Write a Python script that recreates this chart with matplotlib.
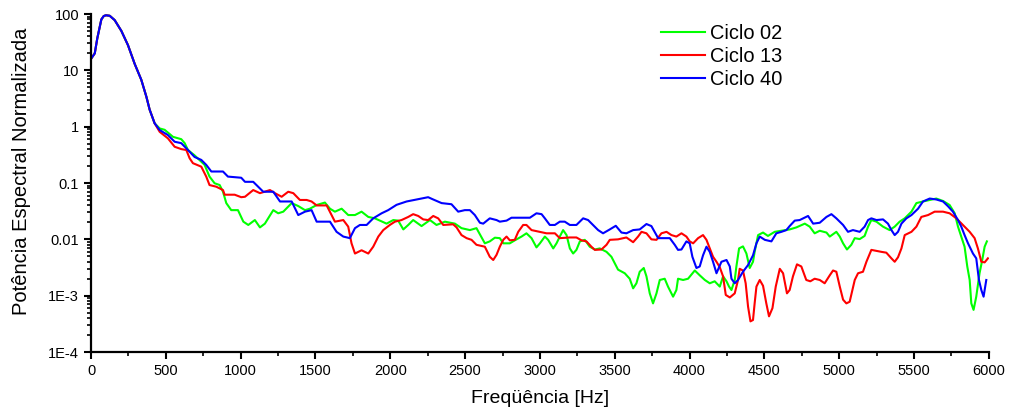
import matplotlib
matplotlib.use('Agg')

import matplotlib.pyplot as plt
from matplotlib.ticker import FixedLocator, FixedFormatter, LogLocator, NullFormatter, MultipleLocator

plt.rcParams['font.family'] = ['Liberation Sans', 'DejaVu Sans']

# === dados ===
# trecho inicial comum às três curvas
head_f = [0, 25, 42, 58, 69, 85, 100, 125, 158, 203, 247, 292, 336, 370, 392, 425]
head_p = [16, 20, 37, 59, 80, 92, 95, 93, 78, 50, 28, 13, 6.8, 3.4, 2.0, 1.15]

c02_f = [459, 492, 548, 603, 626, 648, 692, 759, 792, 826, 860, 882, 904, 937, 982,
         1018, 1051, 1095, 1129, 1162, 1218, 1251, 1285, 1341, 1385, 1430, 1463, 1508,
         1563, 1597, 1630, 1675, 1719, 1764, 1808, 1853, 1897, 1975, 2020, 2053, 2087,
         2120, 2153, 2187, 2209, 2265, 2309, 2365, 2432, 2476, 2532, 2576, 2632, 2665,
         2699, 2732, 2755, 2799, 2832, 2877, 2910, 2944, 2977, 3000, 3033, 3055, 3089,
         3111, 3133, 3155, 3178, 3200, 3222, 3244, 3267, 3300, 3333, 3367, 3400, 3445,
         3478, 3522, 3567, 3600, 3623, 3645, 3667, 3694, 3712, 3734, 3756, 3779, 3801,
         3834, 3856, 3890, 3912, 3923, 3957, 3990, 4035, 4068, 4102, 4135, 4168, 4202,
         4224, 4247, 4264, 4280, 4302, 4313, 4331, 4357, 4380, 4402, 4424, 4435, 4458,
         4491, 4524, 4569, 4614, 4669, 4714, 4770, 4803, 4836, 4870, 4915, 4937, 4981,
         5004, 5026, 5052, 5081, 5104, 5137, 5170, 5193, 5215, 5249, 5293, 5337, 5371,
         5404, 5438, 5483, 5516, 5560, 5605, 5649, 5694, 5738, 5772, 5794, 5816, 5838,
         5856, 5872, 5883, 5898, 5916, 5938, 5956, 5972, 5987]
c02_p = [0.93, 0.88, 0.66, 0.60, 0.51, 0.385, 0.31, 0.21, 0.13, 0.099, 0.092, 0.07, 0.044,
         0.033, 0.033, 0.0206, 0.018, 0.022, 0.0163, 0.019, 0.033, 0.029, 0.031, 0.044,
         0.039, 0.033, 0.035, 0.0407, 0.045, 0.035, 0.031, 0.035, 0.027, 0.027, 0.031,
         0.025, 0.0236, 0.019, 0.022, 0.0215, 0.015, 0.018, 0.022, 0.019, 0.0172, 0.022,
         0.018, 0.0206, 0.019, 0.0158, 0.0146, 0.0158, 0.0085, 0.0092, 0.0107, 0.0105,
         0.0085, 0.0085, 0.0096, 0.0112, 0.0128, 0.0105, 0.0072, 0.0085, 0.0112, 0.0098,
         0.0069, 0.0085, 0.0112, 0.0146, 0.0119, 0.0069, 0.0056, 0.0065, 0.0092, 0.0098,
         0.0074, 0.0066, 0.0069, 0.006, 0.0049, 0.0029, 0.0025, 0.002, 0.00135, 0.00166,
         0.00266, 0.0031, 0.0022, 0.0011, 0.00073, 0.0011, 0.0019, 0.002, 0.00145,
         0.00096, 0.00126, 0.002, 0.0019, 0.002, 0.0028, 0.0023, 0.0019, 0.00166, 0.0018,
         0.00145, 0.0022, 0.0018, 0.00145, 0.00126, 0.0019, 0.0033, 0.0069, 0.0075,
         0.0056, 0.0031, 0.004, 0.006, 0.0119, 0.0132, 0.0115, 0.0136, 0.0142, 0.015,
         0.0163, 0.019, 0.0168, 0.0128, 0.0142, 0.0132, 0.0112, 0.0136, 0.0112, 0.0085,
         0.0066, 0.008, 0.0105, 0.0101, 0.0115, 0.0168, 0.022, 0.0206, 0.0168, 0.0146,
         0.0168, 0.0206, 0.0236, 0.031, 0.044, 0.047, 0.050, 0.053, 0.048, 0.0407, 0.029,
         0.0168, 0.0112, 0.0074, 0.0033, 0.0019, 0.00073, 0.00056, 0.00096, 0.0025,
         0.0043, 0.0074, 0.0092]

c13_f = [459, 514, 559, 603, 637, 659, 681, 737, 770, 792, 837, 882, 893, 960, 1004,
         1029, 1084, 1129, 1196, 1229, 1274, 1318, 1352, 1396, 1441, 1474, 1508, 1575,
         1630, 1686, 1719, 1741, 1764, 1808, 1853, 1886, 1920, 1953, 1997, 2031, 2075,
         2120, 2153, 2187, 2220, 2253, 2287, 2320, 2354, 2420, 2443, 2476, 2510, 2543,
         2576, 2632, 2665, 2688, 2710, 2732, 2755, 2777, 2799, 2832, 2855, 2888, 2910,
         2944, 2999, 3044, 3100, 3133, 3200, 3244, 3278, 3311, 3344, 3367, 3411, 3445,
         3467, 3522, 3578, 3623, 3656, 3679, 3712, 3745, 3779, 3812, 3846, 3879, 3912,
         3946, 3979, 4001, 4024, 4057, 4090, 4113, 4135, 4157, 4180, 4202, 4224, 4242,
         4269, 4302, 4324, 4335, 4357, 4375, 4391, 4407, 4424, 4435, 4447, 4469, 4491,
         4513, 4531, 4554, 4576, 4603, 4625, 4651, 4669, 4691, 4718, 4747, 4780, 4807,
         4836, 4870, 4903, 4937, 4959, 4981, 5004, 5026, 5048, 5070, 5104, 5126, 5159,
         5182, 5215, 5282, 5315, 5349, 5371, 5393, 5416, 5438, 5483, 5516, 5549, 5594,
         5638, 5694, 5738, 5783, 5827, 5872, 5905, 5927, 5950, 5972, 5994]
c13_p = [0.81, 0.62, 0.44, 0.40, 0.385, 0.275, 0.225, 0.195, 0.13, 0.092, 0.086, 0.075,
         0.062, 0.062, 0.056, 0.057, 0.075, 0.066, 0.075, 0.066, 0.057, 0.070, 0.066,
         0.050, 0.050, 0.047, 0.040, 0.040, 0.0206, 0.022, 0.0168, 0.0085, 0.0056,
         0.0064, 0.0056, 0.0074, 0.0112, 0.0146, 0.018, 0.0206, 0.022, 0.025, 0.028,
         0.026, 0.0226, 0.022, 0.026, 0.0236, 0.018, 0.0185, 0.0163, 0.0119, 0.0105,
         0.0098, 0.0080, 0.0074, 0.0049, 0.0043, 0.0053, 0.0074, 0.0098, 0.0112, 0.0096,
         0.0098, 0.0136, 0.018, 0.018, 0.0146, 0.0136, 0.0128, 0.0128, 0.0105, 0.0108,
         0.0108, 0.0096, 0.0092, 0.0074, 0.0065, 0.0066, 0.008, 0.0098, 0.010, 0.0108,
         0.0089, 0.0112, 0.0136, 0.0128, 0.010, 0.0098, 0.0128, 0.0136, 0.0119, 0.0112,
         0.0128, 0.0112, 0.0092, 0.0085, 0.0105, 0.0119, 0.0098, 0.0069, 0.0049, 0.004,
         0.0032, 0.0022, 0.00103, 0.00093, 0.0011, 0.0019, 0.003, 0.0028, 0.00166,
         0.00064, 0.00035, 0.00037, 0.00073, 0.00145, 0.0019, 0.0015, 0.00073, 0.00043,
         0.0006, 0.00145, 0.003, 0.0025, 0.0011, 0.00126, 0.0022, 0.0036, 0.0033, 0.0019,
         0.0018, 0.002, 0.0019, 0.00166, 0.0023, 0.0028, 0.00266, 0.00145, 0.00085,
         0.00073, 0.00078, 0.0019, 0.0025, 0.00266, 0.004, 0.0065, 0.006, 0.0058, 0.0046,
         0.004, 0.0048, 0.0069, 0.0119, 0.0136, 0.0168, 0.025, 0.027, 0.031, 0.031, 0.029,
         0.0236, 0.018, 0.0136, 0.0105, 0.0069, 0.004, 0.0039, 0.0046]

c40_f = [459, 514, 559, 603, 648, 692, 737, 770, 804, 882, 915, 1004, 1029, 1084, 1129,
         1151, 1218, 1263, 1341, 1385, 1430, 1474, 1508, 1597, 1641, 1686, 1730, 1764,
         1797, 1842, 1886, 1942, 1986, 2042, 2109, 2176, 2253, 2287, 2343, 2409, 2454,
         2498, 2532, 2565, 2599, 2621, 2665, 2710, 2732, 2777, 2810, 2933, 2977, 3011,
         3033, 3066, 3100, 3133, 3166, 3200, 3244, 3289, 3322, 3355, 3389, 3422, 3467,
         3507, 3545, 3578, 3623, 3667, 3712, 3745, 3779, 3790, 3868, 3901, 3923, 3946,
         3979, 4001, 4019, 4046, 4068, 4090, 4113, 4135, 4157, 4180, 4213, 4247, 4269,
         4280, 4302, 4324, 4357, 4391, 4424, 4447, 4469, 4503, 4547, 4580, 4614, 4647,
         4669, 4703, 4736, 4792, 4826, 4870, 4915, 4948, 4981, 5004, 5026, 5059, 5092,
         5137, 5170, 5193, 5215, 5249, 5293, 5326, 5349, 5371, 5393, 5416, 5449, 5483,
         5527, 5560, 5605, 5649, 5694, 5727, 5760, 5794, 5816, 5838, 5861, 5894, 5916,
         5934, 5950, 5965, 5983]
c40_p = [0.87, 0.71, 0.54, 0.51, 0.385, 0.29, 0.257, 0.21, 0.16, 0.16, 0.13, 0.124, 0.105,
         0.105, 0.080, 0.070, 0.070, 0.047, 0.047, 0.027, 0.031, 0.033, 0.0206, 0.0206,
         0.0136, 0.0112, 0.0105, 0.0158, 0.018, 0.018, 0.0236, 0.029, 0.033, 0.041,
         0.047, 0.051, 0.056, 0.051, 0.044, 0.042, 0.031, 0.033, 0.033, 0.027, 0.0197,
         0.019, 0.0236, 0.022, 0.0206, 0.0215, 0.0242, 0.0242, 0.029, 0.028, 0.0236,
         0.018, 0.018, 0.0206, 0.0206, 0.018, 0.018, 0.0236, 0.022, 0.018, 0.0146, 0.0128,
         0.015, 0.0174, 0.0132, 0.0128, 0.0146, 0.015, 0.0187, 0.0172, 0.0119, 0.0105,
         0.0105, 0.008, 0.0065, 0.0066, 0.0092, 0.0085, 0.0049, 0.0031, 0.0033, 0.0052,
         0.0074, 0.006, 0.004, 0.0025, 0.004, 0.0043, 0.0033, 0.002, 0.00166, 0.0019,
         0.00266, 0.0035, 0.0052, 0.0085, 0.0112, 0.0098, 0.0092, 0.0128, 0.0136, 0.0146,
         0.0172, 0.0215, 0.022, 0.026, 0.019, 0.0197, 0.025, 0.028, 0.0236, 0.0206, 0.018,
         0.0136, 0.0146, 0.0136, 0.0168, 0.022, 0.0236, 0.022, 0.0226, 0.019, 0.0146,
         0.0119, 0.0136, 0.019, 0.0236, 0.027, 0.035, 0.047, 0.053, 0.051, 0.047, 0.0387,
         0.031, 0.022, 0.0168, 0.0119, 0.0085, 0.0056, 0.0046, 0.0019, 0.00126, 0.00096,
         0.0019]

labels = ['Ciclo 02', 'Ciclo 13', 'Ciclo 40']
colors = ['#00ff00', '#ff0000', '#0000ff']

y_ticks = [1e-4, 1e-3, 1e-2, 1e-1, 1, 10, 100]
y_tick_labels = ['1E-4', '1E-3', '0.01', '0.1', '1', '10', '100']

# === figura ===
fig = plt.figure(figsize=(10.09, 4.12), dpi=100)
ax = fig.add_axes([0.0902, 0.1456, 0.8898, 0.8204])

series = [(c02_f, c02_p), (c13_f, c13_p), (c40_f, c40_p)]
for (f, p), lab, col in zip(series, labels, colors):
    ax.plot(head_f + f, head_p + p, color=col, lw=1.5, label=lab)

ax.set_yscale('log')
ax.set_xlim(0, 6000)
ax.set_ylim(1e-4, 100)

ax.xaxis.set_major_locator(MultipleLocator(500))
ax.xaxis.set_minor_locator(MultipleLocator(250))
ax.yaxis.set_major_locator(FixedLocator(y_ticks))
ax.yaxis.set_major_formatter(FixedFormatter(y_tick_labels))
ax.yaxis.set_minor_locator(LogLocator(base=10, subs=range(2, 10)))
ax.yaxis.set_minor_formatter(NullFormatter())

for side in ['top', 'right']:
    ax.spines[side].set_visible(False)
for side in ['left', 'bottom']:
    ax.spines[side].set_linewidth(1.6)

ax.tick_params(which='major', direction='out', length=5, width=1.5, labelsize=10.5, colors='black')
ax.tick_params(which='minor', direction='out', length=3, width=1.2)

ax.set_xlabel('Freqüência [Hz]', fontsize=14, labelpad=9)
ax.set_ylabel('Potência Espectral Normalizada', fontsize=14.5)
ax.yaxis.set_label_coords(-0.067, 0.536)

ax.legend(loc='upper left', bbox_to_anchor=(0.621, 1.005), frameon=False, fontsize=14.4,
          handlelength=2.2, handletextpad=0.25, labelspacing=0.2, borderaxespad=0.2)

fig.savefig('out.png', dpi=100)
